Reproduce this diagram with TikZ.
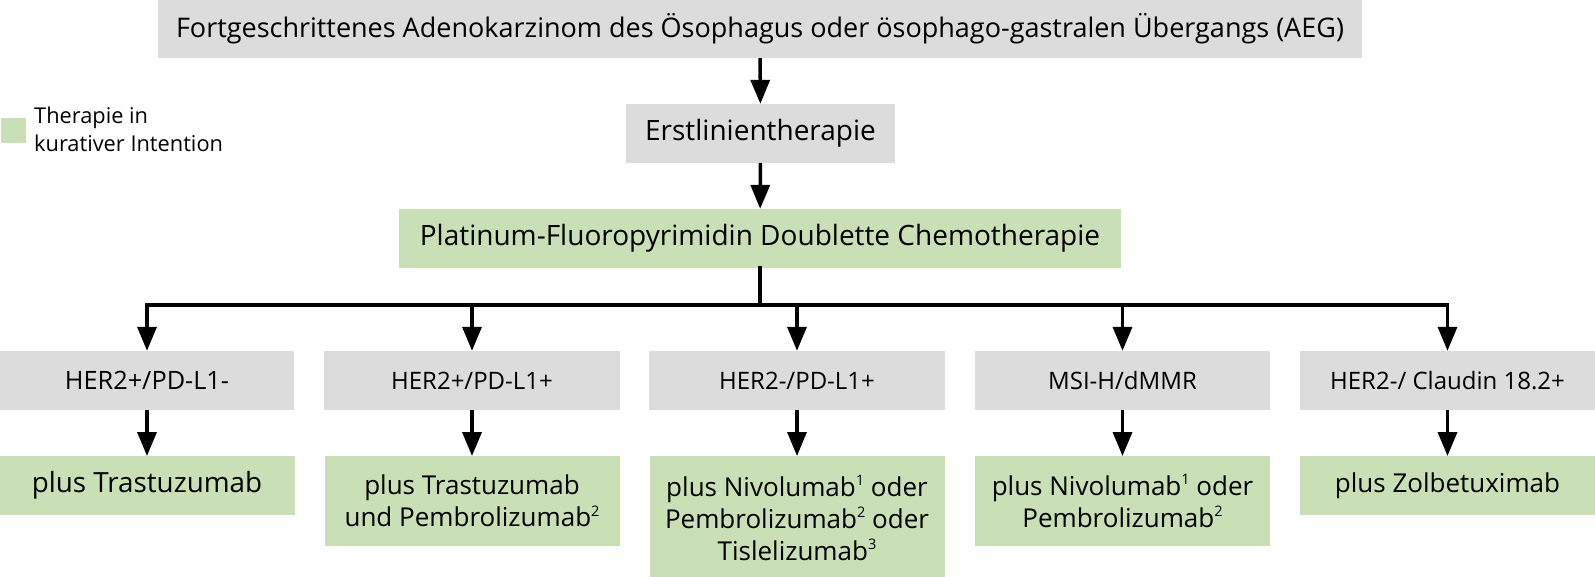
\documentclass[tikz,border=0pt]{standalone}
\usepackage{fontspec}
\setmainfont{Open Sans}
\usetikzlibrary{arrows.meta}

\definecolor{boxgray}{RGB}{220,220,220}
\definecolor{boxgreen}{RGB}{201,223,182}
% small raised footnote numbers
\newcommand{\sups}[1]{\raisebox{0.42em}{\fontsize{14.5}{14.5}\selectfont #1}}

\tikzset{
	graybox/.style={fill=boxgray, inner sep=0pt, align=center, minimum height=59pt},
	greenbox/.style={fill=boxgreen, inner sep=0pt, align=center, minimum width=295pt},
	toptext/.style={font=\fontsize{27}{33}\selectfont},
	steptext/.style={font=\fontsize{28}{33}\selectfont},
	chemotext/.style={font=\fontsize{28}{33}\selectfont},
	rowtext/.style={font=\fontsize{24}{30}\selectfont},
	firsttext/.style={font=\fontsize{25.3}{31}\selectfont},
	drugtext/.style={font=\fontsize{26}{32}\selectfont},
	firstdrug/.style={font=\fontsize{27.8}{33}\selectfont},
	arr/.style={-{Triangle[width=19pt,length=24pt]}, line width=3.5pt},
	link/.style={line width=3.5pt, line cap=rect},
}

\begin{document}
\begin{tikzpicture}[x=1pt,y=-1pt]
	\useasboundingbox (0,0) rectangle (1595,576);
	% legend
	\node[fill=boxgreen, minimum size=25pt, inner sep=0pt] (legbox) at (13.5,130.5) {};
	\node[anchor=west, align=left, inner sep=0pt, font=\fontsize{21.8}{28}\selectfont] (legtext) at (34,129) {Therapie in\\kurativer Intention};
	% the main stem
	\node[graybox, toptext, minimum width=1204pt] (aeg) at (760,28.5) {Fortgeschrittenes Adenokarzinom des Ösophagus oder ösophago-gastralen Übergangs (AEG)};
	\node[graybox, steptext, minimum width=269pt] (first) at (760.5,133.5) {Erstlinientherapie};
	\node[graybox, fill=boxgreen, chemotext, minimum width=722pt] (chemo) at (760,238.5) {Platinum-Fluoropyrimidin Doublette Chemotherapie};
	\draw[arr] (aeg) -- (first);
	\draw[arr] (first) -- (chemo);
	% the marker groups
	\node[graybox, firsttext, minimum width=294pt] (her1) at (147,380.5) {HER2+/PD-L1-};
	\node[graybox, rowtext, minimum width=296pt] (her2) at (472,380.5) {HER2+/PD-L1+};
	\node[graybox, rowtext, minimum width=296pt] (her3) at (797,380.5) {HER2-/PD-L1+};
	\node[graybox, rowtext, minimum width=295pt] (msi) at (1122.5,380.5) {MSI-H/dMMR};
	\node[graybox, rowtext, minimum width=295pt] (cld) at (1447.5,380.5) {HER2-/ Claudin 18.2+};
	% the branching
	\coordinate (split) at (760,305);
	\draw[link] (chemo) -- (split);
	\draw[link] (her1 |- split) -- (cld |- split);
	\draw[arr] (her1 |- split) -- (her1);
	\draw[arr] (her2 |- split) -- (her2);
	\draw[arr] (her3 |- split) -- (her3);
	\draw[arr] (msi |- split) -- (msi);
	\draw[arr] (cld |- split) -- (cld);
	% the therapies
	\node[greenbox, firstdrug, anchor=north, minimum height=59pt] (tra) at (147,456) {plus Trastuzumab};
	\node[greenbox, drugtext, anchor=north, minimum height=90pt] (trapem) at (472,456) {plus Trastuzumab\\und Pembrolizumab\sups{2}};
	\node[greenbox, drugtext, anchor=north, minimum height=124pt] (nivo) at (797,456) {plus Nivolumab\sups{1} oder\\Pembrolizumab\sups{2} oder\\Tislelizumab\sups{3}};
	\node[greenbox, drugtext, anchor=north, minimum height=90pt] (nivopem) at (1122.5,456) {plus Nivolumab\sups{1} oder\\Pembrolizumab\sups{2}};
	\node[greenbox, drugtext, anchor=north, minimum height=59pt] (zolb) at (1447.5,456) {plus Zolbetuximab};
	\draw[arr] (her1) -- (tra);
	\draw[arr] (her2) -- (trapem);
	\draw[arr] (her3) -- (nivo);
	\draw[arr] (msi) -- (nivopem);
	\draw[arr] (cld) -- (zolb);
\end{tikzpicture}
\end{document}
